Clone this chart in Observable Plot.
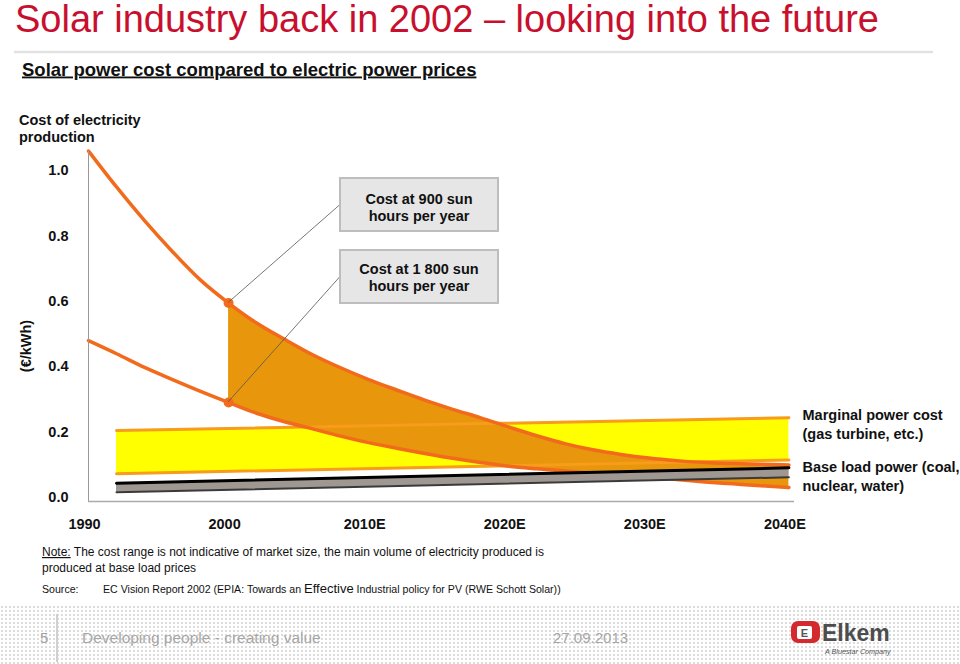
<!DOCTYPE html>
<html><head><meta charset="utf-8">
<script src="https://cdn.jsdelivr.net/npm/d3@7"></script>
<script src="https://cdn.jsdelivr.net/npm/@observablehq/plot@0.6"></script>
<style>
html,body{margin:0;padding:0;background:#fff;}
#page{position:relative;width:960px;height:664px;overflow:hidden;font-family:"Liberation Sans",Arial,sans-serif;}
#chart{position:absolute;left:0;top:140px;}
#overlay{position:absolute;left:0;top:0;pointer-events:none;font-family:"Liberation Sans",Arial,sans-serif;}
#footer{position:absolute;left:0;top:605px;width:960px;height:59px;background-image:radial-gradient(circle,#dcdcdc 0.9px,transparent 1.4px);background-size:4px 4px;}
</style></head>
<body>
<div id="page">
  <div id="footer"></div>
  <div id="chart"></div>
  <svg id="overlay" width="960" height="664">
    <text x="15" y="31.5" font-size="38" fill="#c8102e">Solar industry back in 2002 – looking into the future</text>
    <line x1="14" x2="933" y1="52" y2="52" stroke="#e2e2e2" stroke-width="2.5"/>
    <text x="22" y="75.5" font-size="18.5" font-weight="bold" fill="#111" style="text-decoration:underline">Solar power cost compared to electric power prices</text>
    <text x="19" y="124.5" font-size="14.5" font-weight="bold" fill="#111">Cost of electricity</text>
    <text x="19" y="142" font-size="14.5" font-weight="bold" fill="#111">production</text>
    <text transform="translate(26,346) rotate(-90)" text-anchor="middle" dominant-baseline="central" font-size="14.5" font-weight="bold" fill="#111">(€/kWh)</text>
    <g id="connectors"></g>
    <rect x="340" y="178" width="158" height="53" fill="#e6e6e6" stroke="#bdbdbd" stroke-width="2"/>
    <text x="419" y="203.5" text-anchor="middle" font-size="14.5" font-weight="bold" fill="#111">Cost at 900 sun</text>
    <text x="419" y="221" text-anchor="middle" font-size="14.5" font-weight="bold" fill="#111">hours per year</text>
    <rect x="340" y="250" width="158" height="53" fill="#e6e6e6" stroke="#bdbdbd" stroke-width="2"/>
    <text x="419" y="273.5" text-anchor="middle" font-size="14.5" font-weight="bold" fill="#111">Cost at 1 800 sun</text>
    <text x="419" y="291" text-anchor="middle" font-size="14.5" font-weight="bold" fill="#111">hours per year</text>
    <text x="42" y="556" font-size="12" fill="#111"><tspan style="text-decoration:underline">Note:</tspan> The cost range is not indicative of market size, the main volume of electricity produced is</text>
    <text x="42" y="571.5" font-size="12" fill="#111">produced at base load prices</text>
    <text x="42" y="593" font-size="10.6" fill="#111">Source:</text>
    <text x="103" y="593" font-size="10.6" fill="#111">EC Vision Report 2002 (EPIA: Towards an <tspan font-size="13">Effective</tspan> Industrial policy for PV (RWE Schott Solar))</text>
    <text x="40" y="642.5" font-size="15" fill="#a0a0a0">5</text>
    <line x1="57" x2="57" y1="614" y2="662" stroke="#d0d0d0" stroke-width="2"/>
    <text x="82" y="643" font-size="15.5" fill="#a6a6a6">Developing people - creating value</text>
    <text x="553" y="642.5" font-size="15" fill="#a6a6a6">27.09.2013</text>
    <rect x="791" y="621" width="29" height="22" rx="7" fill="#d42a2f"/>
    <rect x="797" y="626" width="15" height="13" rx="2" fill="#fff"/>
    <text x="804.5" y="636.5" text-anchor="middle" font-size="11" font-weight="bold" fill="#555">E</text>
    <text x="822" y="641" font-size="23" font-weight="bold" fill="#4d4d4d">Elkem</text>
    <text x="825" y="654" font-size="7.2" font-style="italic" fill="#555">A Bluestar Company</text>
  </svg>
</div>
<script>
// ---- data ----
const years    = [1990,1992,1994,1996,1998,2000,2002,2004,2006,2008,2010,2012,2014,2016,2018,2020,2022,2024,2026,2028,2030,2032,2034,2036,2038,2040];
const cost900  = [1.060,0.950,0.847,0.752,0.665,0.595,0.534,0.484,0.437,0.397,0.361,0.329,0.298,0.270,0.244,0.216,0.189,0.165,0.146,0.132,0.121,0.113,0.107,0.104,0.102,0.100];
const cost1800 = [0.480,0.440,0.398,0.361,0.325,0.291,0.258,0.232,0.210,0.188,0.168,0.151,0.135,0.120,0.107,0.096,0.088,0.081,0.075,0.069,0.062,0.055,0.048,0.042,0.036,0.031];
const markerYear = 2000;
const bandYears    = [1992, 2040];
const marginalHigh = [0.205, 0.244];
const marginalLow  = [0.073, 0.115];
const baseHigh     = [0.044, 0.091];
const baseLow      = [0.016, 0.062];
const xTicks      = [1990, 2000, 2010, 2020, 2030, 2040];
const xTickLabels = ["1990", "2000", "2010E", "2020E", "2030E", "2040E"];
const yTicks      = [0, 0.2, 0.4, 0.6, 0.8, 1.0];
const xDomain = [1990, 2040.4];
const yDomain = [-0.012, 1.06];
const marginalLabel = "Marginal power cost\n(gas turbine, etc.)";
const baseLabel = "Base load power (coal,\nnuclear, water)";

// ---- tables ----
const curves = years.map((year, i) => ({year, c900: cost900[i], c1800: cost1800[i]}));
const bands = bandYears.map((year, i) => ({year, mH: marginalHigh[i], mL: marginalLow[i], bH: baseHigh[i], bL: baseLow[i]}));
const last = bands[bands.length - 1];

const ORANGE_LINE = "#f26a1b";
const labelStyle = {frameAnchor: "right", textAnchor: "start", dx: 8, lineHeight: 1.27, fill: "#111"};
const plot = Plot.plot({
  width: 960, height: 400,
  marginLeft: 88, marginRight: 166, marginTop: 10.5, marginBottom: 39,
  style: {fontFamily: "Liberation Sans, Arial, sans-serif", fontSize: "14.5px", fontWeight: "bold", color: "#111", background: "transparent"},
  x: {domain: xDomain},
  y: {domain: yDomain},
  marks: [
    Plot.areaY(bands, {x: "year", y1: "mL", y2: "mH", fill: "#ffff00"}),
    Plot.areaY(curves.filter(d => d.year >= markerYear), {x: "year", y1: "c1800", y2: "c900", fill: "#e8960c", curve: "monotone-x"}),
    Plot.lineY(bands, {x: "year", y: "mH", stroke: "#f79c1b", strokeWidth: 3}),
    Plot.lineY(bands, {x: "year", y: "mL", stroke: "#f79c1b", strokeWidth: 3}),
    Plot.lineY(curves, {x: "year", y: "c900", stroke: ORANGE_LINE, strokeWidth: 3.5, curve: "monotone-x"}),
    Plot.lineY(curves, {x: "year", y: "c1800", stroke: ORANGE_LINE, strokeWidth: 3.5, curve: "monotone-x"}),
    Plot.areaY(bands, {x: "year", y1: "bL", y2: "bH", fill: "#9f9791"}),
    Plot.lineY(bands, {x: "year", y: "bH", stroke: "#000", strokeWidth: 3}),
    Plot.lineY(bands, {x: "year", y: "bL", stroke: "#3a3a3a", strokeWidth: 2}),
    Plot.dot(curves.filter(d => d.year === markerYear), {x: "year", y: "c900", r: 5, fill: ORANGE_LINE}),
    Plot.dot(curves.filter(d => d.year === markerYear), {x: "year", y: "c1800", r: 5, fill: ORANGE_LINE}),
    Plot.ruleX([xDomain[0]], {stroke: "#999", strokeWidth: 1}),
    Plot.ruleY([yDomain[0]], {stroke: "#aaa", strokeWidth: 1.5}),
    Plot.axisX({ticks: xTicks, tickSize: 0, tickPadding: 17, dx: -4, label: null,
      tickFormat: d => xTickLabels[xTicks.indexOf(d)]}),
    Plot.axisY({ticks: yTicks, tickSize: 0, tickPadding: 20, label: null, tickFormat: d3.format(".1f")}),
    Plot.text([marginalLabel], {...labelStyle, y: () => last.mH, text: d => d, dy: 6}),
    Plot.text([baseLabel], {...labelStyle, y: () => (last.bH + last.bL) / 2, text: d => d, dy: 3}),
  ]
});
document.getElementById("chart").appendChild(plot);

// connectors from the markers to the callout boxes, through Plot's scales
const sx = plot.scale("x"), sy = plot.scale("y");
const chartTop = 140;
const mi = years.indexOf(markerYear);
const boxes = [{x: 340, y: 204.5, v: cost900[mi]}, {x: 340, y: 276.5, v: cost1800[mi]}];
const g = document.getElementById("connectors");
for (const b of boxes) {
  const l = document.createElementNS("http://www.w3.org/2000/svg", "line");
  l.setAttribute("x1", sx.apply(markerYear));
  l.setAttribute("y1", sy.apply(b.v) + chartTop);
  l.setAttribute("x2", b.x);
  l.setAttribute("y2", b.y);
  l.setAttribute("stroke", "#555");
  l.setAttribute("stroke-width", "0.8");
  g.appendChild(l);
}
</script>
</body></html>
